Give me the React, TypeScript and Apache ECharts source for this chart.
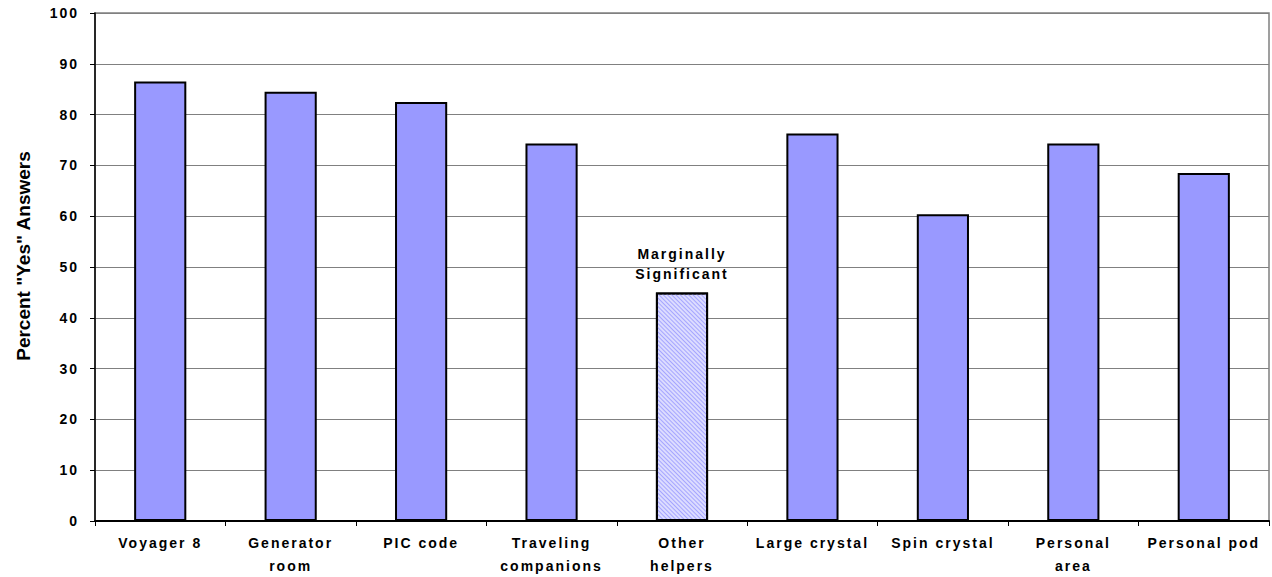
import React, { useEffect, useRef } from "react";
import * as echarts from "echarts";

const categories = [
  "Voyager 8",
  "Generator\nroom",
  "PIC code",
  "Traveling\ncompanions",
  "Other\nhelpers",
  "Large crystal",
  "Spin crystal",
  "Personal\narea",
  "Personal pod",
];
const percentYes = [86.5, 84.5, 82.5, 74.3, 45, 76.3, 60.4, 74.3, 68.5];
const yTicks = [0, 10, 20, 30, 40, 50, 60, 70, 80, 90, 100];
const hatchedIndex = 4;
const hatchedNote = "Marginally\nSignificant";
const yTitle = 'Percent "Yes" Answers';

const FONT = "'Liberation Sans', Arial, sans-serif";

export default function App() {
  const ref = useRef<HTMLDivElement>(null);

  useEffect(() => {
    if (!ref.current) return;
    const chart = echarts.init(ref.current, undefined, { renderer: "svg" });

    const data = percentYes.map((v, i) =>
      i === hatchedIndex
        ? {
            value: v,
            itemStyle: {
              color: "#dcdcff",
              decal: {
                symbol: "rect",
                dashArrayX: [1, 0],
                dashArrayY: [1, 1.5],
                rotation: Math.PI / 4,
                color: "#a5a5ff",
              },
            },
            label: {
              show: true,
              position: "top",
              distance: 8,
              formatter: hatchedNote,
              fontFamily: FONT,
              fontWeight: "bold",
              fontSize: 14,
              lineHeight: 20,
              color: "#000",
            },
          }
        : { value: v }
    );

    chart.setOption({
      animation: false,
      grid: {
        left: 95,
        right: 3,
        top: 13,
        bottom: 54,
        show: true,
        borderColor: "#808080",
        borderWidth: 1.5,
        backgroundColor: "#ffffff",
      },
      graphic: [
        {
          type: "text",
          x: 23,
          y: 256,
          rotation: Math.PI / 2,
          style: {
            text: yTitle,
            fontFamily: FONT,
            fontWeight: "bold",
            fontSize: 19,
            fill: "#000",
            align: "center",
            verticalAlign: "middle",
          },
        },
      ],
      xAxis: {
        type: "category",
        data: categories,
        axisLine: { lineStyle: { color: "#000", width: 2 } },
        axisTick: { show: true, length: 5, lineStyle: { color: "#000" } },
        axisLabel: {
          fontFamily: FONT,
          fontWeight: "bold",
          fontSize: 14,
          lineHeight: 23,
          color: "#000",
          margin: 10,
          interval: 0,
        },
      },
      yAxis: {
        type: "value",
        min: 0,
        max: 100,
        interval: 10,
        axisLine: { show: true, lineStyle: { color: "#000", width: 1.5 } },
        axisTick: { show: true, length: 5, lineStyle: { color: "#000" } },
        axisLabel: {
          fontFamily: FONT,
          fontWeight: "bold",
          fontSize: 14,
          color: "#000",
          margin: 16,
          formatter: (v: number) => (yTicks.includes(v) ? String(v) : ""),
        },
        splitLine: { lineStyle: { color: "#808080", width: 1 } },
      },
      series: [
        {
          type: "bar",
          data,
          barWidth: "40%",
          itemStyle: {
            color: "#9999ff",
            borderColor: "#000",
            borderWidth: 2,
          },
        },
      ],
    });

    return () => chart.dispose();
  }, []);

  return (
    <>
      <style>{`#chart text[style*="14px"]{letter-spacing:2px}`}</style>
      <div
        id="chart"
        ref={ref}
        style={{
          position: "absolute",
          left: 0,
          top: 0,
          width: 1272,
          height: 577,
          background: "#fff",
        }}
      />
    </>
  );
}
